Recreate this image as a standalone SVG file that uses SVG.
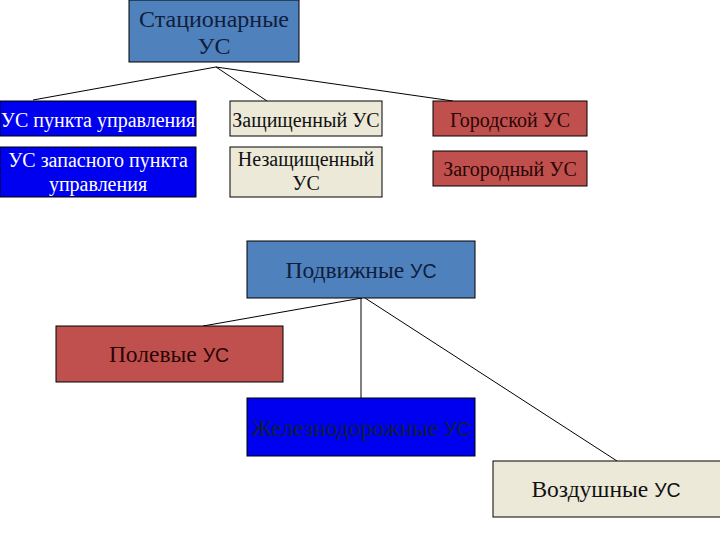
<svg xmlns="http://www.w3.org/2000/svg" width="720" height="540" viewBox="0 0 720 540">
<defs>
<style>
.box{stroke:#000;stroke-width:1}
.sb{fill:#4f81bd}
.bl{fill:#0000f0}
.bg{fill:#ece9d8}
.rd{fill:#c0504d}
text{text-anchor:middle}
.tn{fill:#0f1e3c}
.tw{fill:#fff}
.tk{fill:#111}
.tr{fill:#2a0505}
.conn line{stroke:#000;stroke-width:1}
</style>
<clipPath id="cz"><rect x="247" y="398" width="228" height="58"/></clipPath>
</defs>
<rect width="720" height="540" fill="#fff"/>
<g class="conn">
<line x1="216" y1="67" x2="33" y2="100"/>
<line x1="216" y1="67" x2="267" y2="101"/>
<line x1="216" y1="67" x2="453" y2="101"/>
<line x1="362" y1="298" x2="203" y2="326"/>
<line x1="361" y1="298" x2="361" y2="398"/>
<line x1="365" y1="298" x2="617" y2="461"/>
</g>
<g font-family="Liberation Serif, DejaVu Serif, serif">
<g id="stat"><rect class="box sb" x="129" y="0" width="170" height="62"/>
<text class="tn" font-size="24" x="214" y="27">Стационарные</text>
<text class="tn" font-size="24" x="214" y="54">УС</text></g>
<g id="punkt"><rect class="box bl" x="0" y="101" width="196" height="35"/>
<text class="tw" font-size="20" x="98" y="127">УС пункта управления</text></g>
<g id="zash"><rect class="box bg" x="230" y="101" width="152" height="35"/>
<text class="tk" font-size="20" x="306" y="127">Защищенный УС</text></g>
<g id="gor"><rect class="box rd" x="433" y="101" width="154" height="35"/>
<text class="tr" font-size="20" x="510" y="127">Городской УС</text></g>
<g id="zapas"><rect class="box bl" x="0" y="147" width="196" height="50"/>
<text class="tw" font-size="20" x="98" y="167">УС запасного пункта</text>
<text class="tw" font-size="20" x="98" y="191">управления</text></g>
<g id="nezash"><rect class="box bg" x="230" y="147" width="152" height="50"/>
<text class="tk" font-size="20" x="306" y="166">Незащищенный</text>
<text class="tk" font-size="20" x="306" y="190">УС</text></g>
<g id="zagor"><rect class="box rd" x="433" y="151" width="154" height="35"/>
<text class="tr" font-size="20" x="510" y="176">Загородный УС</text></g>
<g id="podv"><rect class="box sb" x="247" y="241" width="228" height="57"/>
<text class="tn" font-size="23.5" x="361" y="278">Подвижные <tspan font-family="Liberation Sans, Arial, sans-serif" font-size="19.5">УС</tspan></text></g>
<g id="pol"><rect class="box rd" x="56" y="326" width="227" height="56"/>
<text class="tr" font-size="23.5" x="169" y="362">Полевые <tspan font-family="Liberation Sans, Arial, sans-serif" font-size="19.5">УС</tspan></text></g>
<g id="zhel"><rect class="box bl" x="247" y="398" width="228" height="58"/>
<text class="tn" font-size="23.5" x="361" y="436" clip-path="url(#cz)">Железнодорожные <tspan font-family="Liberation Sans, Arial, sans-serif" font-size="19.5">УС</tspan></text></g>
<g id="vozd"><rect class="box bg" x="493" y="461" width="240" height="56"/>
<text class="tk" font-size="23.5" x="606" y="497">Воздушные <tspan font-family="Liberation Sans, Arial, sans-serif" font-size="19.5">УС</tspan></text></g>
</g>
</svg>
